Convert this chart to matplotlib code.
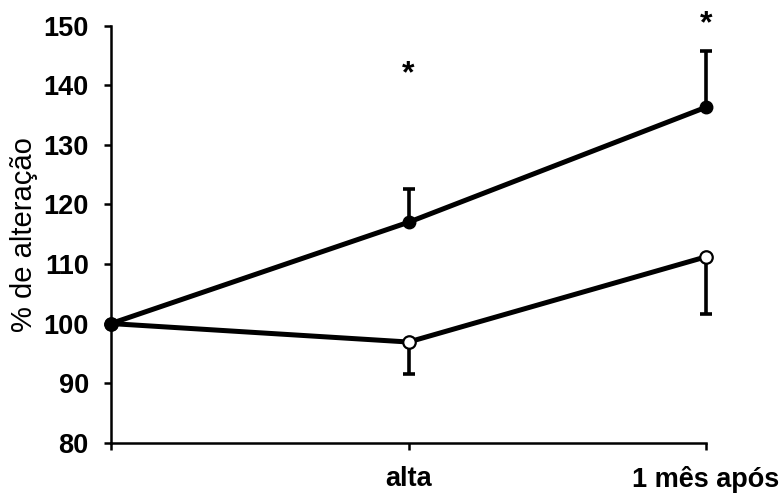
import matplotlib
matplotlib.use("Agg")
import matplotlib.pyplot as plt

categories = ["", "alta", "1 mês após"]
x_pos = [0, 1, 2]
filled_vals = [100, 117.0, 136.3]
filled_err_up = [0, 5.5, 9.4]
open_vals = [100, 96.9, 111.2]
open_err_down = [0, 5.3, 9.6]
star_x = [1, 2]
star_y = [141.8, 150.3]

plt.rcParams['font.family'] = ['Liberation Sans', 'DejaVu Sans']

fig = plt.figure(figsize=(7.84, 4.93), dpi=100)
ax = fig.add_axes([0.1416, 0.102, 0.9005 - 0.1416, 0.948 - 0.102])

# error bars (one-sided)
for vals, err in ((filled_vals, [[0]*2, filled_err_up[1:]]),
                  (open_vals, [open_err_down[1:], [0]*2])):
    cont = ax.errorbar(x_pos[1:], vals[1:], yerr=err, fmt='none', ecolor='black',
                       elinewidth=2.6, capsize=4, capthick=2.6, zorder=2)
    for child in cont.get_children():
        child.set_clip_on(False)

ax.plot(x_pos, open_vals, color='black', lw=3.6, marker='o', markersize=9,
        markerfacecolor='white', markeredgecolor='black', markeredgewidth=1.6, zorder=3,
        clip_on=False)
ax.plot(x_pos, filled_vals, color='black', lw=3.6, marker='o', markersize=9,
        markerfacecolor='black', markeredgecolor='black', zorder=4, clip_on=False)

for sx, sy in zip(star_x, star_y):
    ax.text(sx, sy, "*", ha='center', va='center', fontsize=23, fontweight='bold',
            clip_on=False)

ax.set_xlim(0, 2)
ax.set_ylim(80, 150)
ax.set_yticks(range(80, 151, 10))
ax.set_xticks(x_pos)
ax.set_xticklabels(categories)
for lbl in ax.get_xticklabels() + ax.get_yticklabels():
    lbl.set_fontweight('bold')
    lbl.set_fontsize(19.5)

ax.spines['top'].set_visible(False)
ax.spines['right'].set_visible(False)
for s in ['left', 'bottom']:
    ax.spines[s].set_linewidth(1.8)
ax.tick_params(axis='both', direction='out', length=5, width=1.8, colors='black')
ax.tick_params(axis='y', pad=11)
ax.tick_params(axis='x', pad=12)

ax.set_ylabel("% de alteração", fontsize=21, labelpad=4)

fig.savefig("out.png", dpi=100)
